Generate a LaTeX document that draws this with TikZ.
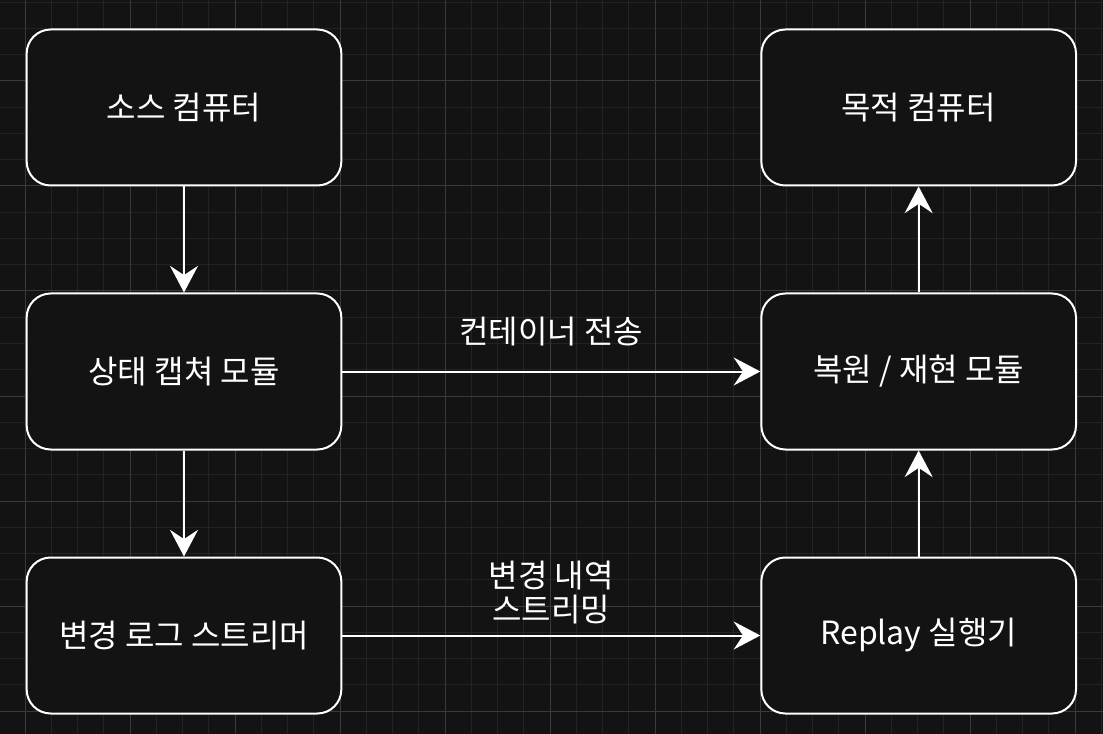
\documentclass[tikz,border=0pt]{standalone}
\usepackage{fontspec}
\usepackage{xcolor}
\usepackage{tikz}
\usetikzlibrary{arrows.meta, positioning}
\setmainfont{Noto Sans CJK KR}
\definecolor{canvas}{HTML}{131313}
\definecolor{minorgrid}{HTML}{232323}
\definecolor{majorgrid}{HTML}{3a3a3a}

\begin{document}
\begin{tikzpicture}[
  x=0.75pt, y=-0.75pt,
  node distance = 79.5pt and 313.5pt,
  box/.style = {draw=white, fill=canvas, rectangle, rounded corners=18pt, line width=1.5pt, minimum width=236pt, minimum height=117pt, text=white, font=\fontsize{24}{28}\selectfont, align=center},
  edgetext/.style = {text=white, font=\fontsize{24}{25.5}\selectfont, align=center},
  line/.style = {draw=white, line width=1.5pt, -{Stealth[length=20pt, width=21pt, inset=7pt]}}
  ]
 % Background and grid
 \useasboundingbox (0,0) rectangle (1103,734);
 \fill[canvas] (0,0) rectangle (1103,734);
 \begin{scope}
 \clip (0,0) rectangle (1103,734);
 \foreach \i in {-1,...,41}
  \draw[minorgrid, line width=0.75pt] ({25+26.25*\i},0) -- ++(0,734);
 \foreach \i in {-3,...,24}
  \draw[minorgrid, line width=0.75pt] (0,{81+26.25*\i}) -- ++(1103,0);
 \foreach \i in {0,...,10}
  \draw[majorgrid, line width=0.75pt] ({25+105*\i},0) -- ++(0,734);
 \foreach \i in {1,...,7}
  \draw[majorgrid, line width=0.75pt] (0,{-24+105*\i}) -- ++(1103,0);
 \end{scope}
 % Source side
 \node[box] (source) at (184,107.5) {소스 컴퓨터};
 \node[box, below=of source] (capture) {상태 캡쳐 모듈};
 \node[box, below=of capture] (streamer) {변경 로그 스트리머};
 % Target side
 \node[box, right=of source] (target) {목적 컴퓨터};
 \node[box, right=of capture] (restore) {복원 / 재현 모듈};
 \node[box, right=of streamer] (replay) {Replay 실행기};
 % Arrows
 \draw[line] (source) -- (capture);
 \draw[line] (capture) -- (streamer);
 \draw[line] (capture) -- node[edgetext, yshift=30pt] (transfer) {컨테이너 전송} (restore);
 \draw[line] (streamer) -- node[edgetext, yshift=32pt] (streaming) {변경 내역\\스트리밍} (replay);
 \draw[line] (replay) -- (restore);
 \draw[line] (restore) -- (target);
\end{tikzpicture}
\end{document}
